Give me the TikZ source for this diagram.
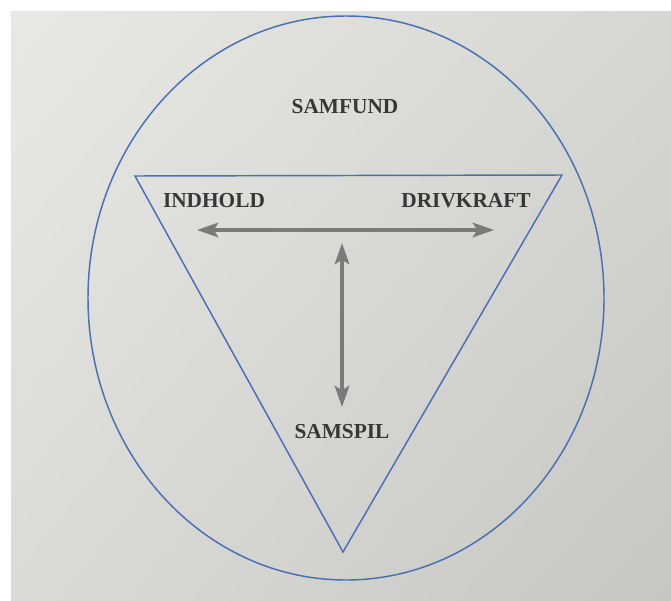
\documentclass[tikz,border=0pt]{standalone}
\usepackage{fontspec}
\setmainfont{Liberation Serif}
\usetikzlibrary{arrows.meta,shapes.geometric,shadings}
\definecolor{bgul}{RGB}{232,232,228}
\definecolor{bgur}{RGB}{214,214,210}
\definecolor{bgll}{RGB}{218,218,214}
\definecolor{bglr}{RGB}{198,198,195}
\definecolor{lineblue}{RGB}{72,112,182}
\definecolor{arrowgray}{RGB}{122,122,122}
\definecolor{labelgray}{RGB}{55,55,55}
\tikzset{
  label/.style={font=\bfseries\fontsize{16}{18}\selectfont, text=labelgray, inner sep=0pt},
  frame/.style={draw=lineblue, line width=1.1pt},
  twoway/.style={draw=arrowgray, line width=2.5pt,
    {Stealth[length=16pt,width=11pt,inset=3.5pt]}-{Stealth[length=16pt,width=11pt,inset=3.5pt]}},
}
\begin{document}
\begin{tikzpicture}[x=0.75pt,y=-0.75pt]
\useasboundingbox (0,0) rectangle (671,600);
\fill[white] (0,0) rectangle (671,600);
\shade[upper left=bgul, upper right=bgur, lower left=bgll, lower right=bglr] (11,11) rectangle (671,600);
% circle (ellipse)
\node[frame, ellipse, minimum width=387pt, minimum height=423pt, inner sep=0pt] (ring) at (346,298) {};
% triangle
\coordinate (tl) at (135,176);
\coordinate (tr) at (562,175);
\coordinate (bt) at (343,552);
\draw[frame, line join=miter] (tl) -- (tr) -- (bt) -- cycle;
% labels
\node[label] (samfund) at (345,107) {SAMFUND};
\node[label] (indhold) at (214,201) {INDHOLD};
\node[label] (drivkraft) at (466,201) {DRIVKRAFT};
\node[label] (samspil) at (342,432) {SAMSPIL};
% arrows
\coordinate (hl) at (197,230);
\coordinate (hr) at (494,230);
\coordinate (vt) at (342,243);
\coordinate (vb) at (342,407);
\draw[twoway] (hl) -- (hr);
\draw[twoway] (vt) -- (vb);
\end{tikzpicture}
\end{document}
